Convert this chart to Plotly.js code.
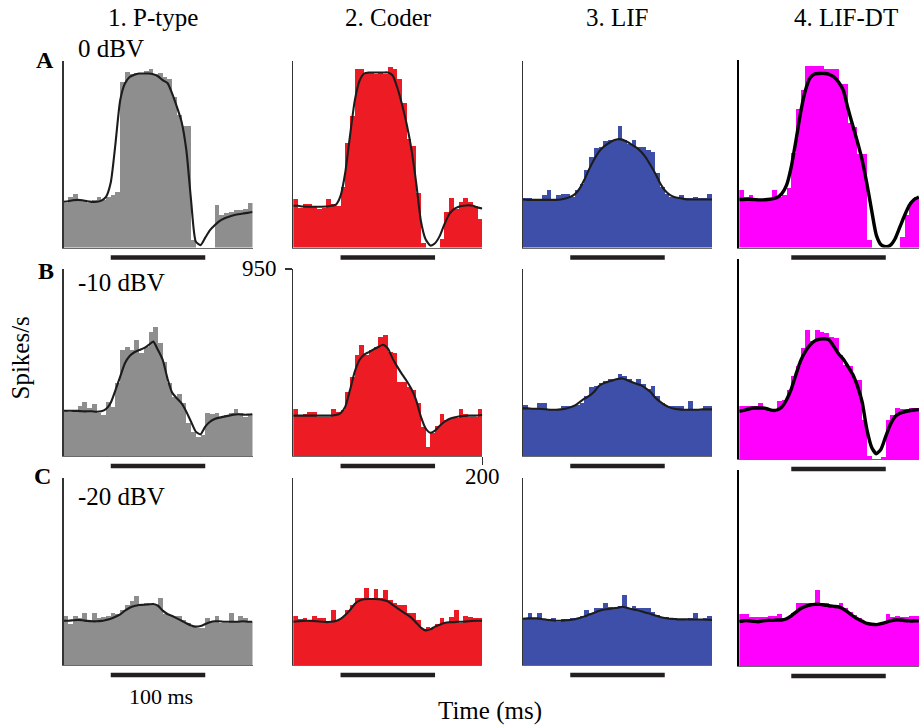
<!DOCTYPE html>
<html><head><meta charset="utf-8">
<script src="https://cdn.plot.ly/plotly-3.0.1.min.js"></script>
<style>html,body{margin:0;padding:0;background:#fff}</style>
</head><body><div id="chart" style="width:919px;height:725px"></div>
<script>
// ---------------- data ----------------
const models = ['1. P-type', '2. Coder', '3. LIF', '4. LIF-DT'];
const levels = ['0 dBV', '-10 dBV', '-20 dBV'];
const rowLetters = ['A', 'B', 'C'];
const modelColors = ['#8e8e8e', '#ed1c24', '#3d4fa8', '#ff00ff'];

// bin centres (ms), 5 ms bins
const binT = [2.5,7.5,12.5,17.5,22.5,27.5,32.5,37.5,42.5,47.5,52.5,57.5,62.5,67.5,72.5,77.5,82.5,87.5,92.5,97.5,
              102.5,107.5,112.5,117.5,122.5,127.5,132.5,137.5,142.5,147.5,152.5,157.5,162.5,167.5,172.5,177.5,182.5,187.5,192.5,197.5];
// smoothed-rate sample times (ms)
const curveT = [0,5,10,15,20,25,30,35,40,45,50,55,60,65,70,75,80,85,90,95,100,
                105,110,115,120,125,130,135,140,145,150,155,160,165,170,175,180,185,190,195,200];
// stimulus bar (ms, in each column's own time axis)
const stimOn  = [50, 50, 50, 55];
const stimOff = [150, 150, 150, 155];
// tick labels shown once
const yTickVal = [950];
const xTickVal = [200];

// Row A: 0 dBV (spikes/s)
const histA1 = [224,257,274,240,240,224,240,257,240,257,266,280,841,892,880,885,880,895,909,880,885,867,855,765,672,616,616,37,0,0,0,0,215,165,173,181,190,190,198,224];
const rateA1 = [232,235,240,242,240,235,232,232,238,257,330,528,748,833,866,878,884,884,884,880,870,850,836,782,714,638,494,240,30,12,50,88,113,134,147,156,164,169,173,176,180];
const histA2 = [245,203,220,220,212,195,203,245,220,212,305,533,669,906,906,889,889,880,889,880,919,906,855,736,550,516,279,25,0,0,0,42,178,254,195,229,254,229,212,144];
const rateA2 = [212,212,208,207,207,207,207,208,212,217,262,381,567,745,846,884,889,889,889,889,889,875,813,728,626,499,330,135,42,10,22,59,119,169,195,207,212,215,212,203,198];
const histA3 = [249,249,244,240,266,291,240,266,274,274,257,291,325,393,460,508,511,542,545,545,616,545,528,545,511,511,494,486,376,308,274,257,257,266,249,249,257,249,249,274];
const rateA3 = [244,242,242,242,242,242,242,242,244,249,257,271,300,345,398,444,484,511,528,542,550,548,537,523,508,486,457,418,376,328,291,269,257,251,247,244,244,244,244,244,244];
const histA4 = [291,257,266,249,244,244,249,291,257,266,300,480,706,799,921,921,921,921,909,909,909,833,833,630,613,477,477,37,0,0,0,0,0,0,54,164,232,257];
const rateA4 = [244,244,245,244,242,242,244,247,254,274,317,410,545,689,799,863,882,884,884,880,867,841,799,706,621,537,444,325,190,63,14,4,12,46,105,164,215,244,257];

// Row B: -10 dBV
const histB1 = [234,222,225,254,276,242,264,217,208,276,251,369,538,552,538,589,521,555,632,654,572,479,369,301,315,267,166,124,98,107,217,213,217,200,208,217,237,217,200,213];
const rateB1 = [230,230,229,229,227,227,227,225,227,239,271,335,403,471,508,527,538,548,564,581,538,488,394,322,293,267,225,174,124,110,149,174,188,195,200,205,210,212,210,210,212];
const histB2 = [237,208,213,225,225,200,200,200,237,225,234,327,403,513,564,513,538,555,603,615,530,521,378,378,352,335,267,149,47,115,152,213,183,191,191,237,213,200,200,237];
const rateB2 = [205,205,205,205,205,205,205,205,205,208,218,251,335,428,488,515,528,542,554,565,547,496,454,416,381,340,284,200,141,118,129,154,174,188,196,201,203,205,205,206,208];
const histB3 = [257,245,245,267,267,240,240,237,254,254,254,257,271,305,352,356,369,381,389,389,418,406,389,372,389,364,339,356,305,267,254,254,254,254,237,279,237,234,254,254];
const rateB3 = [242,242,240,240,239,237,235,235,237,240,247,257,274,291,305,325,354,369,377,384,391,394,386,376,367,359,344,325,296,276,259,247,240,237,235,235,235,235,237,237,237];
const histB4 = [271,267,267,267,284,259,251,237,293,301,352,420,471,564,657,598,657,645,640,618,615,530,479,471,403,403,200,14,0,0,10,200,225,259,254,254,259,259];
const rateB4 = [242,247,254,259,259,259,254,247,249,264,301,355,430,500,547,580,600,609,611,605,572,535,508,470,430,370,290,150,60,27,50,115,176,215,232,240,245,249,251];

// Row C: -20 dBV
const histC1 = [251,208,251,237,262,229,262,237,245,251,262,259,279,305,327,350,305,313,305,305,339,259,254,251,251,229,212,195,186,186,237,220,251,212,212,262,220,251,237,220];
const rateC1 = [225,225,227,229,227,224,222,222,224,229,235,245,257,276,291,300,305,306,308,310,301,276,259,249,237,225,212,201,195,198,208,217,222,222,220,220,220,220,222,220,220];
const histC2 = [251,232,240,229,251,240,237,225,279,229,245,279,305,342,339,389,339,384,339,381,330,313,305,305,262,262,229,181,191,186,207,237,212,245,279,212,251,245,237,237];
const rateC2 = [220,222,224,225,224,222,220,218,220,224,234,254,279,310,327,334,335,335,334,330,323,306,289,273,257,240,215,190,176,181,195,205,213,217,218,220,220,222,224,225,225];
const histC3 = [234,262,234,262,234,232,237,220,234,232,237,237,251,279,262,288,291,313,296,288,300,356,288,300,288,288,288,271,254,245,245,237,234,234,234,237,262,234,237,251];
const rateC3 = [235,237,237,237,234,230,227,225,225,227,229,232,239,247,256,264,274,281,284,288,291,296,291,284,279,273,266,259,251,244,239,235,234,232,232,232,231,231,231,230,229];
const histC4 = [264,264,251,251,251,251,256,256,264,245,251,267,318,318,318,322,386,318,318,310,310,318,293,276,259,242,217,217,217,217,225,264,251,256,251,251,256,256];
const rateC4 = [225,230,230,227,225,229,232,232,234,234,240,255,274,292,303,310,313,313,310,306,303,300,290,274,255,240,228,216,212,210,215,222,229,234,234,231,229,229,229];

const hist = [[histA1, histA2, histA3, histA4], [histB1, histB2, histB3, histB4], [histC1, histC2, histC3, histC4]];
const rate = [[rateA1, rateA2, rateA3, rateA4], [rateB1, rateB2, rateB3, rateB4], [rateC1, rateC2, rateC3, rateC4]];

// ---------------- layout geometry (pixels) ----------------
const W = 919, H = 725;
const px = x => x / W, py = y => 1 - y / H;
const colX = [[63.5, 252.5], [293.3, 482.3], [523, 712], [739.3, 919]];
const rowY = [[60.5, 247.5], [269, 456], [478.3, 665]];
const rowY4 = [[59.5, 247.5], [259, 459], [470, 666]];
const pxPerMs = 0.945, pxPerRate = 187 / 950;

const traces = [];
const layout = {
  width: W, height: H, margin: {l: 0, r: 0, t: 0, b: 0},
  paper_bgcolor: '#fff', plot_bgcolor: 'rgba(0,0,0,0)',
  showlegend: false, bargap: 0, barmode: 'overlay',
  font: {family: 'Liberation Serif, Times New Roman, serif', color: '#000'},
  shapes: [], annotations: []
};
const serif = 'Liberation Serif, Times New Roman, serif';

for (let r = 0; r < 3; r++) {
  for (let c = 0; c < 4; c++) {
    const k = r * 4 + c + 1;
    const xa = 'x' + k, ya = 'y' + k;
    const xs = colX[c], ys = (c === 3 ? rowY4[r] : rowY[r]);
    const xMax = (xs[1] - xs[0]) / pxPerMs;
    const yMax = (ys[1] - ys[0]) / pxPerRate;
    const h = hist[r][c], q = rate[r][c];
    traces.push({
      type: 'bar', x: binT.slice(0, h.length), y: h, width: 5,
      marker: {color: modelColors[c], line: {width: 0}},
      xaxis: xa, yaxis: ya, hoverinfo: 'skip'
    });
    traces.push({
      type: 'scatter', mode: 'lines', x: curveT.slice(0, q.length), y: q,
      line: {color: c === 3 ? '#000' : '#1c1c1c', width: c === 3 ? 3.4 : 2.1, shape: 'spline', smoothing: 0.6},
      xaxis: xa, yaxis: ya, hoverinfo: 'skip'
    });
    const xaxisObj = {
      domain: [px(xs[0]), px(xs[1])], range: [0, xMax], anchor: ya,
      showline: true, linecolor: '#6a6a6a', linewidth: 1,
      showgrid: false, zeroline: false, ticks: '', showticklabels: false, fixedrange: true
    };
    const yaxisObj = {
      domain: [py(ys[1]), py(ys[0])], range: [0, yMax], anchor: xa,
      showline: true, linecolor: c === 3 ? '#000' : '#333', linewidth: c === 3 ? 2.2 : 1.5,
      showgrid: false, zeroline: false, ticks: '', showticklabels: false, fixedrange: true
    };
    if (r === 1 && c === 1) {
      Object.assign(yaxisObj, {
        tickmode: 'array', tickvals: yTickVal,
        ticks: 'outside', ticklen: 7, tickwidth: 1.5, tickcolor: '#333', showticklabels: false
      });
      Object.assign(xaxisObj, {
        tickmode: 'array', tickvals: xTickVal,
        ticks: 'outside', ticklen: 8, tickwidth: 1.2, tickcolor: '#333', showticklabels: false
      });
      // "950" label next to its tick
      layout.annotations.push({
        text: String(yTickVal[0]), xref: 'paper', yref: ya, x: px(278.5), y: yTickVal[0],
        xanchor: 'right', yanchor: 'middle', yshift: 1, showarrow: false,
        font: {family: serif, size: 23, color: '#000'}
      });
      // "200" label below its tick
      layout.annotations.push({
        text: String(xTickVal[0]), xref: xa, yref: 'paper', x: xTickVal[0], y: py(477),
        xanchor: 'center', yanchor: 'middle', showarrow: false,
        font: {family: serif, size: 23, color: '#000'}
      });
    }
    layout['xaxis' + k] = xaxisObj;
    layout['yaxis' + k] = yaxisObj;
    // stimulus bar under each panel
    layout.shapes.push({
      type: 'rect', xref: xa, yref: 'paper',
      x0: stimOn[c], x1: stimOff[c],
      y0: py(ys[1] + 12.3), y1: py(ys[1] + 7.8),
      fillcolor: '#231f20', line: {width: 0}
    });
  }
}

// column titles
const titleX = [152.5, 388, 617, 846];
models.forEach((m, i) => layout.annotations.push({
  text: m, xref: 'paper', yref: 'paper', x: px(titleX[i]), y: py(18),
  xanchor: 'center', yanchor: 'middle', showarrow: false, font: {family: serif, size: 25}
}));
// row letters
const letterPos = [[44.5, 60], [45.5, 270.5], [42.5, 476]];
rowLetters.forEach((l, i) => layout.annotations.push({
  text: '<b>' + l + '</b>', xref: 'paper', yref: 'paper', x: px(letterPos[i][0]), y: py(letterPos[i][1]),
  xanchor: 'center', yanchor: 'middle', showarrow: false, font: {family: serif, size: 24}
}));
// level labels
const levelY = [49, 282, 496];
levels.forEach((l, i) => layout.annotations.push({
  text: l, xref: 'paper', yref: 'paper', x: px(76), y: py(levelY[i]),
  xanchor: 'left', yanchor: 'middle', showarrow: false, font: {family: serif, size: 25}
}));
layout.annotations.push({
  text: 'Spikes/s', xref: 'paper', yref: 'paper', x: px(19.5), y: py(358),
  xanchor: 'center', yanchor: 'middle', textangle: -90, showarrow: false, font: {family: serif, size: 25}
});
layout.annotations.push({
  text: 'Time (ms)', xref: 'paper', yref: 'paper', x: px(490), y: py(711),
  xanchor: 'center', yanchor: 'middle', showarrow: false, font: {family: serif, size: 25}
});
layout.annotations.push({
  text: '100 ms', xref: 'paper', yref: 'paper', x: px(161), y: py(696),
  xanchor: 'center', yanchor: 'middle', showarrow: false, font: {family: serif, size: 22}
});

Plotly.newPlot('chart', traces, layout, {staticPlot: true, displayModeBar: false});
</script>
</body></html>
